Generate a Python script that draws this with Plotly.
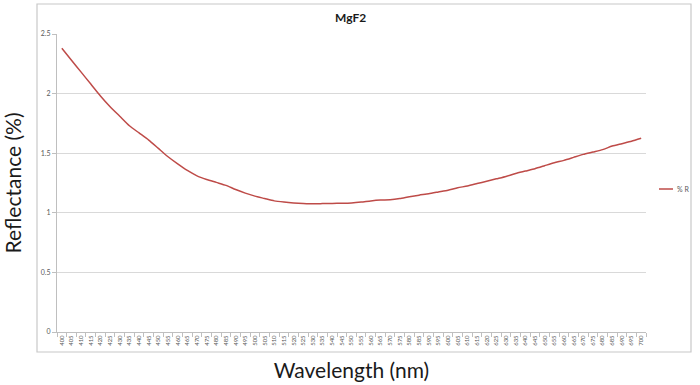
import plotly.graph_objects as go

wavelengths = [str(w) for w in range(400, 705, 5)]
reflectance = [
    2.38, 2.28, 2.18, 2.08, 1.98, 1.89, 1.81, 1.73, 1.67, 1.61,
    1.54, 1.47, 1.41, 1.355, 1.31, 1.28, 1.255, 1.23, 1.195, 1.165,
    1.14, 1.12, 1.10, 1.09, 1.083, 1.078, 1.075, 1.077, 1.079, 1.08,
    1.083, 1.09, 1.10, 1.107, 1.11, 1.12, 1.135, 1.148, 1.16, 1.175,
    1.19, 1.21, 1.225, 1.245, 1.265, 1.285, 1.305, 1.33, 1.35, 1.37,
    1.395, 1.42, 1.44, 1.465, 1.49, 1.51, 1.53, 1.56, 1.58, 1.60, 1.625,
]
series_name = "% R"
title_text = "MgF2"
x_title = "Wavelength (nm)"
y_title = "Reflectance (%)"
y_ticks = [0, 0.5, 1, 1.5, 2, 2.5]
y_ticktext = ["0", "0.5", "1", "1.5", "2", "2.5"]

LINE = "#BE4B48"
FONT = "Lato"

fig = go.Figure()
fig.add_trace(go.Scatter(
    x=wavelengths, y=reflectance, mode="lines", name=series_name,
    line=dict(color=LINE, width=1.5, shape="spline", smoothing=0.6),
    showlegend=False, hoverinfo="skip",
))

# plot area in pixels: x 57..646, y 34..332
W, H = 700, 385
L, R, T, B = 57, 54, 34, 53
pw, ph = W - L - R, H - T - B

def px(x):
    return (x - L) / pw

def py(y):
    return (H - B - y) / ph

shapes = [
    dict(type="rect", xref="paper", yref="paper",
         x0=px(37), x1=px(691), y0=py(352), y1=py(4),
         line=dict(color="#C8C8C8", width=1.2), fillcolor="rgba(0,0,0,0)", layer="below"),
    dict(type="line", xref="paper", yref="paper",
         x0=px(659), x1=px(673), y0=py(189), y1=py(189),
         line=dict(color=LINE, width=1.5)),
]
annotations = [
    dict(text=series_name, xref="paper", yref="paper", x=px(675), y=py(189),
         xanchor="left", yanchor="middle", showarrow=False,
         font=dict(family=FONT, size=7, color="#595959")),
]

fig.update_layout(
    width=W, height=H,
    margin=dict(l=L, r=R, t=T, b=B, autoexpand=False),
    paper_bgcolor="white", plot_bgcolor="white",
    title=dict(text="<b>" + title_text + "</b>", x=px(352), xanchor="center",
               y=1 - 18 / H, yanchor="middle",
               font=dict(family=FONT, size=12, color="#1a1a1a")),
    font=dict(family=FONT),
    shapes=shapes,
    annotations=annotations,
    showlegend=False,
)
fig.update_xaxes(
    type="category", range=[-0.5, len(wavelengths) - 0.5],
    tickmode="array", tickvals=wavelengths, ticktext=wavelengths,
    tickangle=-90, tickfont=dict(size=6, color="#595959", family=FONT),
    ticks="outside", ticklen=4, tickcolor="#BFBFBF", tickson="boundaries",
    showline=True, linecolor="#BFBFBF", linewidth=1,
    showgrid=False, zeroline=False, automargin=False,
    title=dict(text=x_title, font=dict(family=FONT, size=21, color="#1a1a1a"), standoff=18),
)
fig.update_yaxes(
    range=[0, 2.5], tickmode="array", tickvals=y_ticks, ticktext=y_ticktext,
    tickfont=dict(size=7, color="#595959", family=FONT),
    ticks="outside", ticklen=4, tickcolor="#BFBFBF",
    showline=True, linecolor="#BFBFBF", linewidth=1,
    showgrid=True, gridcolor="#D9D9D9", gridwidth=1, zeroline=False, automargin=False,
    title=dict(text=y_title, font=dict(family=FONT, size=21, color="#1a1a1a"), standoff=14),
)

fig.write_html("out.html", config={"displayModeBar": False},
               post_script="document.body.style.margin='0';")
